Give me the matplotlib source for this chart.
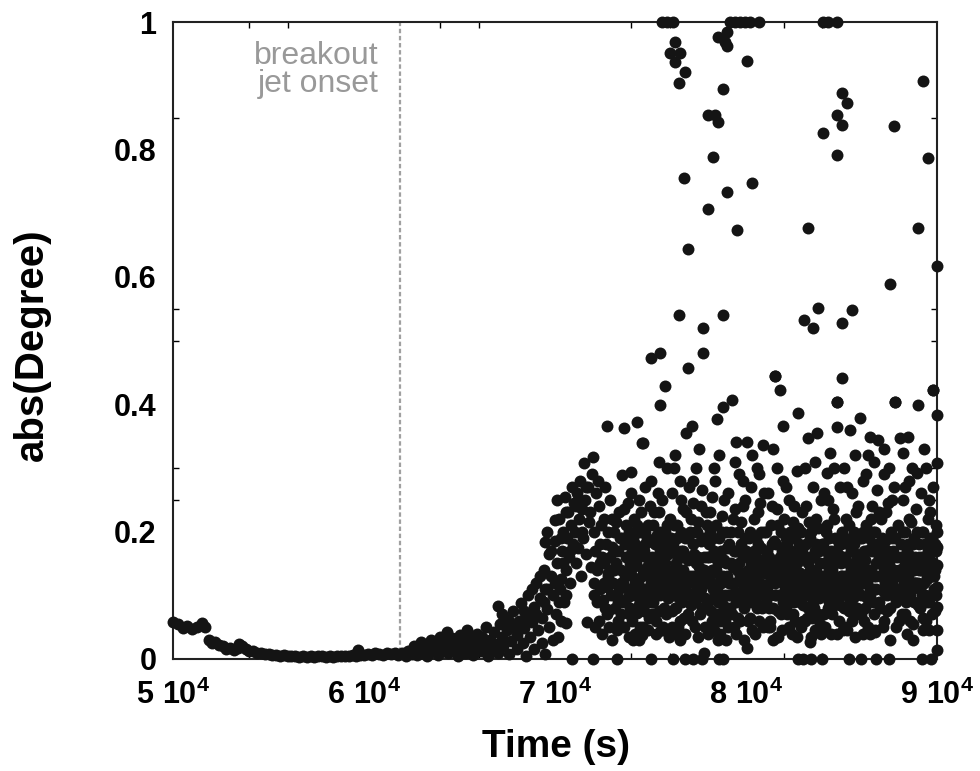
import numpy as np
import matplotlib
matplotlib.use("Agg")
import matplotlib.pyplot as plt

# ---- data (time in units of 1e3 s, abs(degree)) ----

# slow decay before the breakout
quiet = [(50.0, .058), (50.25, .055), (50.5, .049), (50.75, .052), (51.0, .047),
         (51.25, .05), (51.5, .057), (51.7, .05), (51.9, .03), (52.05, .025),
         (52.2, .027), (52.4, .022), (52.6, .02), (52.8, .016), (53.0, .018),
         (53.2, .014), (53.4, .017), (53.46, .024), (53.6, .02), (53.8, .015),
         (54.0, .012), (54.2, .013), (54.4, .01), (54.6, .009), (54.8, .008),
         (55.0, .008), (55.2, .006), (55.4, .007), (55.6, .005), (55.8, .006),
         (56.0, .004), (56.2, .005), (56.4, .004), (56.6, .003), (56.8, .004),
         (57.0, .003), (57.2, .004), (57.4, .003), (57.6, .005), (57.8, .004),
         (58.0, .003), (58.2, .004), (58.4, .003), (58.6, .004), (58.8, .005),
         (59.0, .004), (59.2, .005), (59.4, .006), (59.6, .005), (59.7, .014),
         (59.8, .007), (60.0, .006), (60.2, .008), (60.4, .007), (60.6, .009),
         (60.8, .008), (61.0, .007), (61.2, .009), (61.4, .008), (61.6, .01),
         (61.8, .007), (62.0, .009)]

# growth after the jet onset
rise = [(62.2, .004), (62.3, .012), (62.5, .008), (62.6, .02), (62.8, .006),
        (62.9, .015), (63.0, .027), (63.1, .01), (63.3, .004), (63.4, .018),
        (63.5, .03), (63.7, .012), (63.8, .022), (63.9, .006), (64.0, .035),
        (64.1, .015), (64.2, .028), (64.35, .042), (64.4, .009), (64.5, .02),
        (64.6, .033), (64.7, .012), (64.8, .025), (64.9, .004), (65.0, .038),
        (65.1, .018), (65.2, .028), (65.3, .01), (65.4, .045), (65.5, .022),
        (65.6, .033), (65.7, .006), (65.8, .015), (65.9, .04), (66.0, .026),
        (66.1, .012), (66.2, .035), (66.3, .02), (66.4, .05), (66.5, .004),
        (66.6, .03), (66.7, .016), (66.8, .042), (66.9, .024), (67.0, .083),
        (67.0, .01), (67.1, .055), (67.2, .035), (67.2, .07), (67.3, .02),
        (67.4, .065), (67.5, .045), (67.6, .008), (67.6, .06), (67.7, .028),
        (67.8, .075), (67.9, .05), (68.0, .015), (68.0, .038), (68.1, .06),
        (68.1, .05), (68.2, .088), (68.3, .025), (68.4, .048), (68.4, .075),
        (68.5, .07), (68.5, .005), (68.6, .1), (68.6, .06), (68.7, .035),
        (68.8, .058), (68.8, .11), (68.9, .082), (68.9, .015), (69.0, .12),
        (69.0, .07), (69.1, .045), (69.2, .095), (69.2, .13), (69.3, .065),
        (69.3, .025), (69.4, .14), (69.4, .09), (69.5, .11), (69.5, .008),
        (69.5, .184), (69.6, .078), (69.6, .2), (69.6, .11), (69.7, .05),
        (69.7, .165), (69.8, .13), (69.8, .17), (69.9, .1), (69.9, .03),
        (70.0, .218), (70.0, .12), (70.1, .25), (70.2, .09), (70.3, .19),
        (70.3, .06), (70.4, .15), (70.6, .23), (70.6, .1), (70.8, .17),
        (71.1, .24), (71.2, .25), (71.4, .2), (71.6, .27)]

# turbulent phase: scattered points up to ~0.45
cloud = [
    (70.0, .185), (70.05, .07), (70.1, .15), (70.15, .035), (70.2, .22), (70.25, .11),
    (70.3, .125), (70.35, .17), (70.4, .2), (70.45, .09), (70.5, .254), (70.55, .14),
    (70.6, .056), (70.65, .19), (70.7, .23), (70.75, .16), (70.8, .12), (70.85, .21),
    (70.9, .27), (70.95, .18), (71.0, .245),
    (71.05, .2), (71.1, .15), (71.15, .26), (71.2, .175), (71.25, .22), (71.3, .28),
    (71.35, .13), (71.4, .235), (71.45, .19), (71.5, .307), (71.55, .25), (71.6, .165),
    (71.7, .058), (71.75, .27), (71.8, .215), (71.85, .23), (71.9, .145), (71.95, .29),
    (72.0, .317), (72.05, .2),
    (72.1, .05), (72.15, .26), (72.25, .28), (72.3, .24), (72.35, .18), (72.45, .16),
    (72.5, .093), (72.55, .22), (72.6, .27), (72.7, .113), (72.7, .365), (72.75, .135),
    (72.8, .2), (72.85, .077), (72.9, .25), (73.0, .176), (73.0, .03), (73.1, .14),
    (73.2, .215), (73.25, .1), (73.3, .06), (73.4, .19), (73.5, .289), (73.55, .12),
    (73.6, .235), (73.6, .362), (73.7, .16), (73.8, .245), (73.8, .097), (73.85, .2),
    (73.9, .07),
    (74.0, .294), (74.05, .13), (74.1, .144), (74.1, .03), (74.15, .22), (74.2, .18),
    (74.25, .11), (74.3, .072), (74.3, .372), (74.35, .16), (74.4, .25), (74.45, .09),
    (74.5, .2), (74.55, .13), (74.6, .339), (74.6, .05), (74.65, .17), (74.7, .27),
    (74.75, .1), (74.8, .145), (74.85, .21), (74.9, .065), (74.95, .185), (75.0, .12),
    (75.05, .28), (75.1, .16), (75.15, .09), (75.2, .23), (75.25, .135), (75.3, .06),
    (75.3, .155), (75.35, .195), (75.4, .11), (75.45, .31), (75.5, .17), (75.55, .045),
    (75.6, .25), (75.6, .185), (75.65, .14), (75.7, .08), (75.75, .2), (75.8, .12),
    (75.85, .3), (75.9, .165), (75.9, .095), (75.95, .035), (76.0, .22),
    (76.05, .13), (76.1, .26), (76.15, .075), (76.2, .18), (76.25, .11), (76.3, .32),
    (76.35, .15), (76.35, .04), (76.4, .21), (76.45, .05), (76.5, .095), (76.55, .28),
    (76.6, .17), (76.65, .125), (76.7, .235), (76.7, .14), (76.75, .065), (76.8, .19),
    (76.85, .355), (76.9, .105), (76.95, .155), (77.0, .27),
    (77.05, .2), (77.1, .085), (77.15, .366), (77.2, .13), (77.25, .245), (77.3, .165),
    (77.35, .05), (77.4, .3), (77.45, .11), (77.5, .215), (77.55, .145), (77.6, .07),
    (77.65, .185), (77.7, .265), (77.75, .12), (77.8, .01), (77.85, .095), (77.9, .23),
    (77.95, .16), (78.0, .04),
    (78.05, .13), (78.1, .2), (78.15, .075), (78.2, .255), (78.25, .11), (78.3, .17),
    (78.35, .045), (78.4, .28), (78.45, .14), (78.5, .377), (78.55, .09), (78.6, .19),
    (78.65, .06), (78.7, .12), (78.75, .225), (78.8, .396), (78.85, .155), (78.9, .1),
    (78.95, .03), (79.0, .175),
    (79.05, .26), (79.1, .12), (79.15, .08), (79.2, .2), (79.27, .407), (79.3, .145),
    (79.35, .05), (79.4, .235), (79.45, .105), (79.5, .341), (79.55, .17), (79.6, .065),
    (79.65, .29), (79.7, .13), (79.75, .215), (79.8, .09), (79.85, .16), (79.9, .03),
    (79.95, .25), (80.0, .11),
    (80.05, .341), (80.1, .14), (80.15, .19), (80.2, .065), (80.25, .27), (80.3, .1),
    (80.35, .165), (80.4, .22), (80.45, .04), (80.5, .125), (80.55, .3), (80.6, .08),
    (80.65, .18), (80.7, .15), (80.75, .245), (80.8, .11), (80.89, .336), (80.9, .05),
    (80.95, .2), (81.0, .135),
    (81.05, .09), (81.1, .17), (81.15, .26), (81.2, .12), (81.25, .06), (81.3, .21),
    (81.35, .145), (81.4, .03), (81.45, .185), (81.52, .444), (81.55, .1), (81.6, .235),
    (81.65, .075), (81.7, .155), (81.78, .422), (81.8, .125), (81.85, .2), (81.9, .045),
    (81.94, .366), (81.95, .28), (82.0, .165),
    (82.05, .11), (82.1, .19), (82.15, .07), (82.2, .14), (82.25, .25), (82.3, .09),
    (82.3, .145), (82.35, .17), (82.4, .04), (82.4, .125), (82.45, .215), (82.5, .12),
    (82.55, .06), (82.6, .155), (82.65, .295), (82.7, .205), (82.72, .386), (82.75, .1),
    (82.8, .18), (82.85, .135), (82.9, .05), (82.95, .23), (83.0, .085),
    (83.05, .16), (83.1, .1), (83.15, .24), (83.2, .065), (83.25, .347), (83.3, .13),
    (83.3, .215), (83.35, .19), (83.4, .035), (83.45, .115), (83.5, .27), (83.55, .08),
    (83.6, .17), (83.6, .045), (83.65, .14), (83.72, .355), (83.75, .205), (83.8, .095),
    (83.85, .055), (83.9, .15), (83.95, .25), (84.0, .12),
    (84.05, .18), (84.1, .07), (84.15, .13), (84.24, .292), (84.25, .21), (84.3, .1),
    (84.3, .25), (84.35, .16), (84.4, .323), (84.45, .04), (84.5, .14), (84.55, .235),
    (84.6, .085), (84.65, .19), (84.7, .115), (84.76, .364), (84.76, .403), (84.8, .165),
    (84.85, .06), (84.9, .27), (84.95, .13), (85.0, .2),
    (85.03, .441), (85.05, .1), (85.1, .155), (85.15, .3), (85.2, .05), (85.25, .22),
    (85.3, .125), (85.35, .18), (85.4, .075), (85.45, .36), (85.5, .14), (85.55, .26),
    (85.6, .095), (85.65, .2), (85.7, .035), (85.75, .165), (85.8, .11), (85.85, .24),
    (85.9, .145), (85.97, .378), (86.0, .07),
    (86.05, .19), (86.1, .12), (86.15, .28), (86.2, .06), (86.25, .155), (86.3, .21),
    (86.35, .095), (86.4, .32), (86.45, .135), (86.49, .349), (86.5, .04), (86.55, .175),
    (86.6, .24), (86.65, .11), (86.7, .07), (86.75, .2), (86.8, .15), (86.85, .265),
    (86.91, .344), (86.95, .09), (87.0, .13),
    (87.05, .22), (87.1, .16), (87.15, .05), (87.2, .105), (87.25, .29), (87.3, .185),
    (87.35, .13), (87.4, .075), (87.45, .245), (87.5, .15), (87.55, .03), (87.6, .2),
    (87.65, .115), (87.7, .17), (87.75, .27), (87.8, .403), (87.85, .09), (87.9, .135),
    (87.95, .21), (88.0, .06),
    (88.06, .347), (88.1, .18), (88.15, .11), (88.2, .25), (88.22, .323), (88.25, .145),
    (88.3, .07), (88.35, .2), (88.4, .125), (88.45, .04), (88.48, .349), (88.5, .165),
    (88.55, .28), (88.6, .1), (88.65, .215), (88.7, .14), (88.75, .055), (88.8, .19),
    (88.85, .12), (88.9, .235), (88.95, .292), (89.0, .085), (89.01, .399),
    (89.05, .16), (89.1, .11), (89.15, .26), (89.2, .2), (89.25, .065), (89.3, .14),
    (89.35, .18), (89.4, .09), (89.45, .3), (89.5, .125), (89.55, .22), (89.6, .045),
    (89.65, .155), (89.7, .1), (89.75, .19), (89.8, .422), (89.8, .27), (89.85, .13),
    (89.9, .075), (89.95, .21), (90.0, .383), (90.0, .308), (90.0, .2), (90.0, .176),
    (90.0, .147), (90.0, .113), (90.0, .082), (90.0, .045), (90.0, .014)]

# turbulent phase: the dense core between ~0.04 and ~0.25
core = [
    (72.02, .12), (72.08, .17), (72.18, .09), (72.22, .14), (72.28, .06), (72.38, .11),
    (72.42, .21), (72.48, .04), (72.58, .15), (72.62, .08), (72.68, .18), (72.78, .13),
    (72.82, .05), (72.88, .16), (72.92, .1), (72.97, .22),
    (73.03, .12), (73.07, .2), (73.13, .08), (73.18, .15), (73.22, .045), (73.28, .17),
    (73.33, .11), (73.37, .23), (73.43, .07), (73.47, .14), (73.53, .19), (73.58, .09),
    (73.63, .05), (73.67, .13), (73.72, .21), (73.77, .16), (73.83, .11), (73.88, .035),
    (73.93, .15), (73.97, .26),
    (74.02, .06), (74.07, .19), (74.12, .1), (74.18, .04), (74.23, .15), (74.28, .21),
    (74.33, .12), (74.38, .085), (74.42, .17), (74.47, .05), (74.52, .23), (74.57, .1),
    (74.62, .14), (74.67, .075), (74.72, .2), (74.77, .16), (74.82, .11), (74.87, .045),
    (74.92, .13), (74.97, .24), (74.4, .03), (74.7, .18),
    (75.02, .15), (75.07, .07), (75.12, .21), (75.17, .12), (75.22, .18), (75.27, .04),
    (75.32, .1), (75.37, .26), (75.42, .14), (75.47, .075), (75.52, .2), (75.57, .12),
    (75.62, .16), (75.67, .05), (75.72, .105), (75.77, .15), (75.82, .07), (75.87, .21),
    (75.92, .13), (75.97, .18), (75.45, .23), (75.15, .135),
    (76.02, .1), (76.07, .17), (76.12, .05), (76.17, .14), (76.22, .21), (76.27, .08),
    (76.32, .12), (76.37, .19), (76.42, .16), (76.47, .1), (76.52, .06), (76.57, .14),
    (76.62, .2), (76.67, .09), (76.72, .17), (76.77, .12), (76.82, .04), (76.87, .23),
    (76.92, .13), (76.97, .07), (76.25, .3), (76.6, .25),
    (77.02, .16), (77.07, .1), (77.12, .22), (77.17, .06), (77.22, .18), (77.27, .12),
    (77.32, .09), (77.37, .15), (77.42, .2), (77.47, .035), (77.52, .13), (77.57, .1),
    (77.62, .24), (77.67, .14), (77.72, .08), (77.77, .19), (77.82, .16), (77.87, .05),
    (77.92, .12), (77.97, .21), (77.2, .28), (77.55, .33),
    (78.02, .09), (78.07, .16), (78.12, .23), (78.17, .12), (78.22, .06), (78.27, .19),
    (78.32, .14), (78.37, .1), (78.42, .21), (78.47, .07), (78.52, .15), (78.57, .12),
    (78.62, .04), (78.67, .17), (78.72, .2), (78.77, .085), (78.82, .13), (78.87, .25),
    (78.92, .06), (78.97, .15), (78.3, .3), (78.6, .32),
    (79.02, .13), (79.07, .05), (79.12, .18), (79.17, .1), (79.22, .15), (79.27, .07),
    (79.32, .22), (79.37, .12), (79.42, .17), (79.47, .04), (79.52, .14), (79.57, .2),
    (79.62, .1), (79.67, .06), (79.72, .18), (79.77, .135), (79.82, .24), (79.87, .11),
    (79.92, .08), (79.97, .165), (79.4, .31), (79.85, .28),
    (80.02, .17), (80.07, .1), (80.12, .06), (80.17, .13), (80.22, .2), (80.27, .15),
    (80.32, .045), (80.37, .11), (80.42, .17), (80.47, .09), (80.52, .19), (80.57, .14),
    (80.62, .23), (80.67, .06), (80.72, .12), (80.77, .175), (80.82, .08), (80.87, .14),
    (80.92, .26), (80.97, .1), (80.3, .32), (80.7, .29),
    (81.02, .14), (81.07, .2), (81.12, .11), (81.17, .05), (81.22, .16), (81.27, .1),
    (81.32, .13), (81.37, .24), (81.42, .08), (81.47, .15), (81.52, .12), (81.57, .18),
    (81.62, .035), (81.67, .21), (81.72, .1), (81.77, .14), (81.82, .07), (81.87, .17),
    (81.92, .12), (81.97, .22), (81.4, .33), (81.6, .3),
    (82.02, .15), (82.07, .08), (82.12, .12), (82.17, .18), (82.22, .1), (82.27, .05),
    (82.32, .2), (82.37, .1), (82.42, .16), (82.47, .07), (82.52, .14), (82.57, .19),
    (82.62, .11), (82.67, .035), (82.72, .13), (82.77, .16), (82.82, .09), (82.87, .2),
    (82.92, .12), (82.97, .06), (82.1, .27), (82.5, .24),
    (83.02, .13), (83.07, .06), (83.12, .18), (83.17, .11), (83.22, .15), (83.27, .08),
    (83.32, .1), (83.37, .14), (83.42, .2), (83.47, .065), (83.52, .12), (83.57, .16),
    (83.62, .1), (83.67, .22), (83.72, .13), (83.77, .07), (83.82, .17), (83.87, .115),
    (83.92, .04), (83.97, .18), (83.1, .3), (83.6, .31),
    (84.02, .1), (84.07, .15), (84.12, .05), (84.17, .2), (84.22, .12), (84.27, .08),
    (84.32, .14), (84.37, .19), (84.42, .11), (84.47, .17), (84.52, .07), (84.57, .13),
    (84.62, .22), (84.67, .1), (84.72, .16), (84.77, .04), (84.82, .12), (84.87, .18),
    (84.92, .085), (84.97, .15), (84.6, .3), (84.1, .26),
    (85.02, .13), (85.07, .19), (85.12, .08), (85.17, .16), (85.22, .11), (85.27, .045),
    (85.32, .15), (85.37, .21), (85.42, .12), (85.47, .09), (85.52, .17), (85.57, .06),
    (85.62, .13), (85.67, .18), (85.72, .1), (85.77, .23), (85.82, .15), (85.87, .07),
    (85.92, .12), (85.97, .19), (85.3, .27), (85.7, .32),
    (86.02, .1), (86.07, .15), (86.12, .2), (86.17, .13), (86.22, .08), (86.27, .17),
    (86.32, .12), (86.37, .05), (86.42, .19), (86.47, .1), (86.52, .14), (86.57, .22),
    (86.62, .17), (86.67, .09), (86.72, .13), (86.77, .045), (86.82, .11), (86.87, .18),
    (86.92, .15), (86.97, .23), (86.3, .29), (86.7, .31),
    (87.02, .08), (87.07, .13), (87.12, .19), (87.17, .15), (87.22, .06), (87.27, .12),
    (87.32, .23), (87.37, .1), (87.42, .17), (87.47, .13), (87.52, .08), (87.57, .16),
    (87.62, .12), (87.67, .25), (87.72, .1), (87.77, .14), (87.82, .19), (87.87, .05),
    (87.92, .16), (87.97, .11), (87.2, .33), (87.5, .3),
    (88.02, .14), (88.07, .1), (88.12, .16), (88.17, .07), (88.22, .2), (88.27, .12),
    (88.32, .15), (88.37, .09), (88.42, .17), (88.47, .13), (88.52, .22), (88.57, .06),
    (88.62, .15), (88.67, .11), (88.72, .18), (88.77, .14), (88.82, .09), (88.87, .16),
    (88.92, .12), (88.97, .2), (88.3, .27), (88.7, .3),
    (89.02, .12), (89.07, .18), (89.12, .08), (89.17, .14), (89.22, .1), (89.27, .2),
    (89.32, .12), (89.37, .16), (89.42, .06), (89.47, .13), (89.52, .17), (89.57, .09),
    (89.62, .23), (89.67, .13), (89.72, .07), (89.77, .15), (89.82, .11), (89.87, .18),
    (89.92, .14), (89.97, .1), (89.3, .33), (89.6, .25)]

# more of the core, filling the gaps
core_fill = [
    (72.05, .1), (72.33, .15), (72.55, .12), (72.72, .07), (72.95, .14),
    (73.1, .17), (73.3, .09), (73.45, .12), (73.65, .18), (73.85, .14), (73.95, .08),
    (74.05, .17), (74.2, .12), (74.35, .2), (74.5, .08), (74.65, .11), (74.8, .19), (74.95, .09),
    (75.05, .11), (75.2, .07), (75.35, .13), (75.5, .1), (75.65, .2), (75.8, .17), (75.95, .12),
    (76.05, .19), (76.2, .1), (76.35, .08), (76.5, .13), (76.65, .16), (76.8, .11), (76.95, .19),
    (77.05, .13), (77.2, .1), (77.35, .2), (77.5, .16), (77.65, .11), (77.8, .14), (77.95, .08),
    (78.05, .18), (78.2, .14), (78.35, .16), (78.5, .11), (78.65, .13), (78.8, .07), (78.95, .2),
    (79.05, .1), (79.2, .12), (79.35, .17), (79.5, .09), (79.65, .15), (79.8, .12), (79.95, .19),
    (80.05, .12), (80.2, .09), (80.35, .14), (80.5, .16), (80.65, .1), (80.8, .2), (80.95, .15),
    (81.05, .16), (81.2, .08), (81.35, .18), (81.5, .1), (81.65, .13), (81.8, .16), (81.95, .09),
    (82.05, .13), (82.2, .16), (82.35, .12), (82.5, .09), (82.65, .15), (82.8, .11), (82.95, .17),
    (83.05, .1), (83.2, .13), (83.35, .16), (83.5, .09), (83.65, .18), (83.8, .12), (83.95, .1),
    (84.05, .13), (84.2, .17), (84.35, .09), (84.5, .12), (84.65, .15), (84.8, .1), (84.95, .18),
    (85.05, .16), (85.2, .13), (85.35, .1), (85.5, .19), (85.65, .15), (85.8, .08), (85.95, .14),
    (86.05, .12), (86.2, .17), (86.35, .14), (86.5, .11), (86.65, .2), (86.8, .13), (86.95, .16),
    (87.05, .17), (87.2, .14), (87.35, .16), (87.5, .11), (87.65, .19), (87.8, .1), (87.95, .13),
    (88.05, .11), (88.2, .14), (88.35, .12), (88.5, .18), (88.65, .16), (88.8, .12), (88.95, .15),
    (89.05, .14), (89.2, .16), (89.35, .1), (89.5, .15), (89.65, .19), (89.8, .13), (89.95, .17)]

# low values just above zero
low = [(74.54, .037), (76.55, .03), (75.68, .046), (78.12, .043), (78.55, .03),
       (80.04, .017), (81.26, .051), (81.7, .035), (83.35, .027), (85.1, .046),
       (86.15, .04), (86.76, .043), (88.76, .03), (89.29, .046)]

# sparse large values
high = [(74.56, .339), (75.03, .472), (75.5, .48), (75.76, .429), (75.5, .399),
        (76.96, .457), (77.75, .48), (77.75, .52), (76.5, .54), (78.8, .54),
        (76.96, .643), (78.01, .706), (79.53, .673), (79.0, .733), (80.31, .747),
        (76.75, .755), (78.27, .788), (78.01, .854), (78.38, .854), (78.53, .843),
        (78.8, .895), (76.5, .904), (76.8, .922), (76.28, .937), (76.02, .951),
        (76.54, .951), (76.28, .969), (78.53, .977), (79.0, .985), (78.9, .969),
        (79.0, .962), (80.05, .939), (83.25, .677), (83.77, .551), (83.04, .532),
        (83.51, .52), (85.03, .527), (85.55, .548), (84.76, .791), (84.03, .826),
        (85.03, .838), (84.76, .854), (85.29, .873), (85.03, .889), (87.54, .589),
        (90.0, .617), (89.01, .677), (89.53, .786), (87.75, .837), (89.27, .907),
        (81.52, .444), (84.76, .403), (87.8, .403), (89.8, .422)]

# values pinned at the top of the range
t_top = [75.6, 75.85, 76.2, 79.16, 79.45, 79.7, 79.95, 80.2, 80.7, 84.03, 84.3, 84.76]

# values pinned at zero
t_zero = [70.9, 72.0, 73.25, 75.0, 76.2, 76.8, 77.2, 77.7, 78.6, 78.8, 82.7,
          83.0, 83.4, 84.0, 85.4, 86.0, 86.8, 87.5, 89.2, 89.7]

jet_onset = 61.9
x_ticks = [50, 60, 70, 80, 90]
x_minor = [54, 56, 64, 66, 74, 76, 82, 84]
y_ticks = [0, 0.2, 0.4, 0.6, 0.8, 1]
y_minor = [0.25, 0.3, 0.5, 0.55, 0.8, 0.85]

# ---- figure ----
plt.rcParams['font.family'] = ['Liberation Sans', 'DejaVu Sans']
plt.rcParams['mathtext.fontset'] = 'custom'
plt.rcParams['mathtext.rm'] = 'Liberation Sans:bold'
plt.rcParams['mathtext.bf'] = 'Liberation Sans:bold'
plt.rcParams['mathtext.it'] = 'Liberation Sans:bold'

fig = plt.figure(figsize=(9.8, 7.71), dpi=100)
ax = fig.add_axes([173 / 980, 1 - 659 / 771, 764 / 980, 637 / 771])

pts = np.array(quiet + rise + cloud + core + core_fill + low + high)
t_all = np.concatenate([pts[:, 0], t_top, t_zero]) * 1e3
d_all = np.concatenate([pts[:, 1], np.ones(len(t_top)), np.zeros(len(t_zero))])

dot = '#141414'
ax.scatter(t_all, d_all, s=74, c=dot, linewidths=0, clip_on=False, zorder=3)

ax.axvline(jet_onset * 1e3, color='#a0a0a0', lw=1.6, ls=(0, (2, 1.2)), zorder=1)
ax.text(jet_onset * 1e3 - 1150, 0.925, 'breakout\njet onset', ha='right', va='center',
        color='#999999', fontsize=23, linespacing=0.92)

ax.set_xlim(50000, 90000)
ax.set_ylim(0, 1)
ax.set_xticks([v * 1e3 for v in x_ticks])
ax.set_xticklabels([r'$\mathbf{%d\ 10^{4}}$' % (v // 10) for v in x_ticks])
ax.set_xticks([v * 1e3 for v in x_minor], minor=True)
ax.set_yticks(y_ticks)
ax.set_yticklabels(['0', '0.2', '0.4', '0.6', '0.8', '1'])
ax.set_yticks(y_minor, minor=True)

ax.tick_params(which='major', length=0)
ax.tick_params(axis='x', which='major', pad=15, labelsize=22)
ax.tick_params(axis='y', which='major', pad=12, labelsize=22)
ax.tick_params(which='minor', direction='in', length=4, width=1,
               top=True, right=True)
for lab in ax.get_yticklabels():
    lab.set_fontweight('bold')
for sp in ax.spines.values():
    sp.set_linewidth(1.5)
    sp.set_color('#222222')

fig.text(32 / 980, 1 - 345 / 771, 'abs(Degree)', rotation=90, ha='center',
         va='center', fontsize=29, fontweight='bold')
fig.text(556 / 980, 1 - 757 / 771, 'Time (s)', ha='center', va='baseline',
         fontsize=28, fontweight='bold')

fig.savefig('out.png', dpi=100)
